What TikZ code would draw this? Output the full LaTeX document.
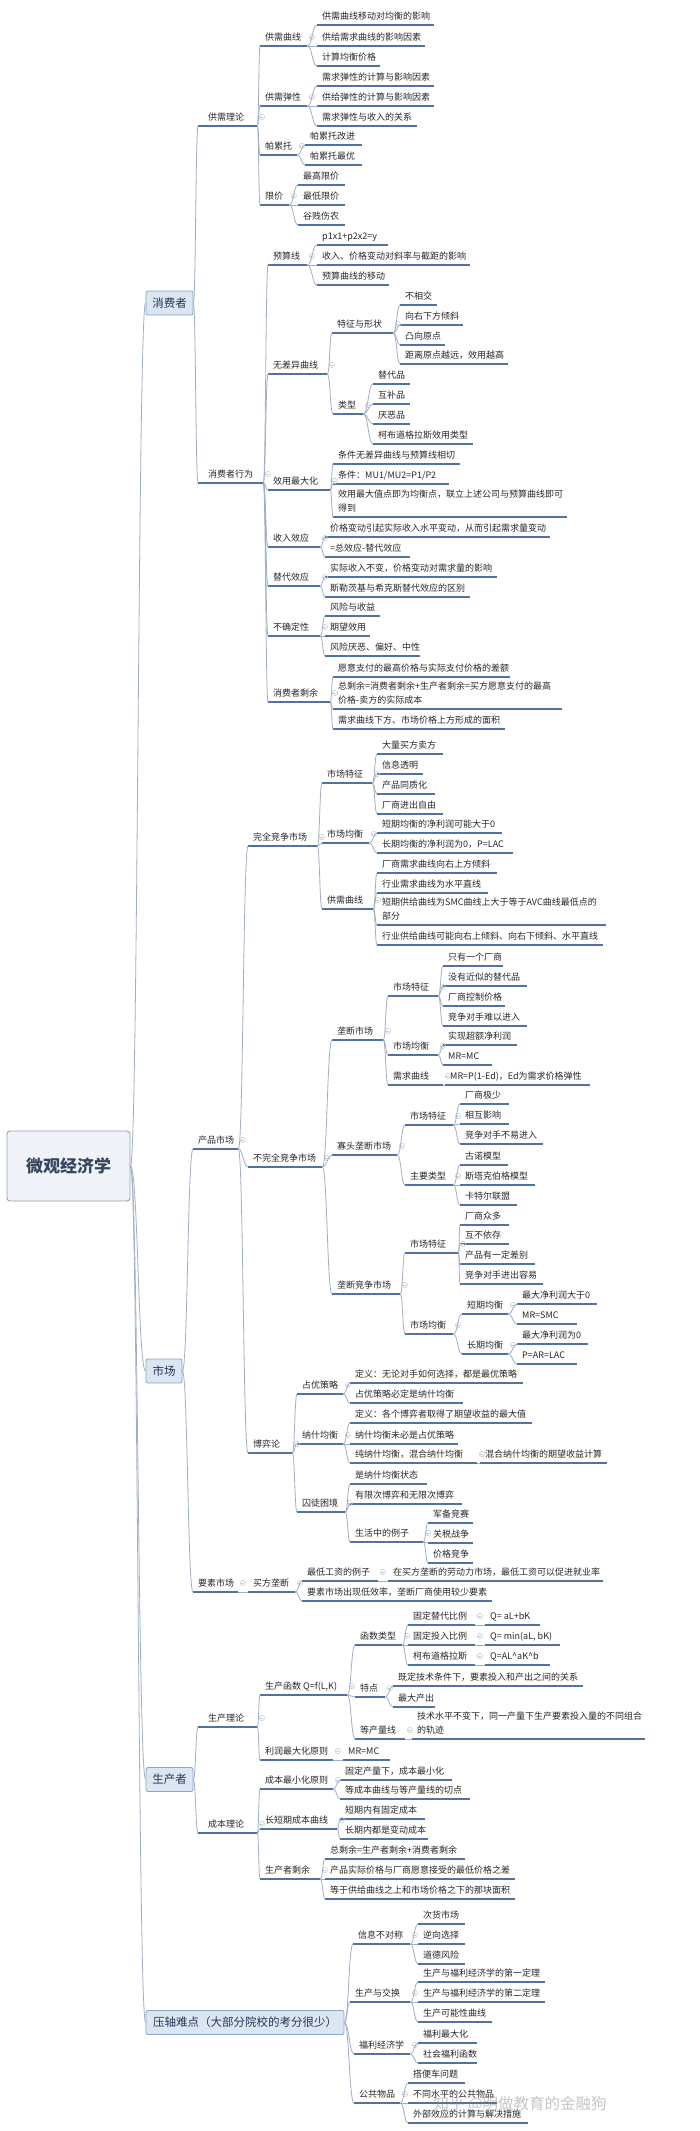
\documentclass[tikz,border=0pt]{standalone}
\usepackage{fontspec}
\setmainfont{Noto Sans CJK SC}
\usetikzlibrary{calc}
\definecolor{ulc}{RGB}{80,115,160}
\definecolor{cnc}{RGB}{160,175,195}
\definecolor{txt}{RGB}{40,40,40}
\definecolor{boxf}{RGB}{220,230,242}
\definecolor{boxb}{RGB}{140,165,195}
\definecolor{boxt}{RGB}{35,55,85}
\definecolor{rootf}{RGB}{240,243,247}
\definecolor{rootb}{RGB}{150,160,175}
\definecolor{roott}{RGB}{55,70,95}
\definecolor{mkc}{RGB}{200,205,212}
\tikzset{
  ulin/.style={draw=ulc, line width=1.2pt},
  lab/.style={anchor=south west, inner xsep=0pt, inner ysep=3.5pt, text depth=2pt,
    font=\fontsize{9}{14}\selectfont, text=txt,
    append after command={(\tikzlastnode.south west) edge[ulin] (\tikzlastnode.south east)}},
  conn/.style={draw=cnc, line width=0.8pt},
  mkline/.style={draw=mkc, line width=0.6pt},
  l1box/.style={draw=boxb, fill=boxf, rounded corners=2pt, line width=0.8pt,
    font=\fontsize{11.5}{14}\selectfont, text=boxt, inner sep=0pt, minimum height=24pt},
  rootbox/.style={draw=rootb, fill=rootf, rounded corners=3pt, line width=0.9pt,
    font=\fontsize{17}{20}\selectfont\bfseries, text=roott, inner sep=0pt,
    minimum width=123pt, minimum height=70pt},
  wmark/.style={font=\fontsize{15.5}{18}\selectfont, text=gray, opacity=0.45, anchor=west}
}
\newcommand\nd[6][5]{\node[lab] (#2) at (#3,#5) {\makebox[\dimexpr#4pt-#3pt\relax][l]{\hspace{#1pt}#6}};}
\newcommand\ml[1]{\begin{tabular}[b]{@{}l@{}}#1\end{tabular}}
\newcommand\lk[2]{\draw[conn] let \p1=(#1), \p2=(#2) in (\p1) .. controls ({(\x1+\x2)/2},\y1) and ({(\x1+\x2)/2},\y2) .. (\p2);}
\newcommand\mk[1]{\draw[mkline] ($(#1)+(4.5,-9)$) circle (2.6pt);
  \draw[mkline] ($(#1)+(3,-9)$) -- ($(#1)+(6,-9)$);}
\newcommand\kids[2]{\mk{#1.south east}\foreach \kid in {#2}{\lk{#1.south east}{\kid.south west}}}
\begin{document}
\begin{tikzpicture}[x=1pt,y=-1pt]
\fill[white] (0,0) rectangle (700,2131);
\useasboundingbox (0,0) rectangle (700,2131);

% root and level 1
\node[rootbox] (root) at (68.5,1166) {微观经济学};
\node[l1box, minimum width=47pt] (xfz) at (169.5,303) {消费者};
\node[l1box, minimum width=36pt] (sc) at (164,1371) {市场};
\node[l1box, minimum width=47pt] (scz) at (169.5,1779.5) {生产者};
\node[l1box, minimum width=198pt] (yz) at (245,2022.5) {压轴难点（大部分院校的考分很少）};

% ---------------- 消费者
\nd[10]{gxll}{198}{257}{126}{供需理论}
\nd{gxqx}{260}{307}{46}{供需曲线}
\nd{a1}{317}{434}{25}{供需曲线移动对均衡的影响}
\nd{a2}{317}{425}{46}{供给需求曲线的影响因素}
\nd{a3}{317}{380}{66}{计算均衡价格}
\nd{gxtx}{260}{307}{106}{供需弹性}
\nd{b1}{317}{434}{86}{需求弹性的计算与影响因素}
\nd{b2}{317}{434}{106}{供给弹性的计算与影响因素}
\nd{b3}{317}{417}{126}{需求弹性与收入的关系}
\nd{plt}{260}{297}{155}{帕累托}
\nd{c1}{305}{362}{145}{帕累托改进}
\nd{c2}{305}{362}{165}{帕累托最优}
\nd{xj}{260}{289}{205}{限价}
\nd{d1}{298}{345}{185}{最高限价}
\nd{d2}{298}{345}{205}{最低限价}
\nd{d3}{298}{345}{225}{谷贱伤农}

\nd[10]{xfzxw}{198}{263}{483}{消费者行为}
\nd{ysx}{268}{307}{265}{预算线}
\nd{e1}{317}{388}{245}{p1x1+p2x2=y}
\nd{e2}{317}{470}{265}{收入、价格变动对斜率与截距的影响}
\nd{e3}{317}{389}{285}{预算曲线的移动}
\nd{wcy}{268}{327}{374}{无差异曲线}
\nd{tzxz}{332}{393}{333}{特征与形状}
\nd{f1}{400}{437}{305}{不相交}
\nd{f2}{400}{463}{325}{向右下方倾斜}
\nd{f3}{400}{445}{345}{凸向原点}
\nd{f4}{400}{508}{364}{距离原点越远，效用越高}
\nd{lx}{333}{363}{414}{类型}
\nd{g1}{373}{410}{384}{替代品}
\nd{g2}{373}{410}{404}{互补品}
\nd{g3}{373}{410}{424}{厌恶品}
\nd{g4}{373}{473}{444}{柯布道格拉斯效用类型}
\nd{xyzdh}{268}{330}{490}{效用最大化}
\nd{h1}{333}{460}{464}{条件无差异曲线与预算线相切}
\nd{h2}{333}{449}{484}{条件：MU1/MU2=P1/P2}
\nd{h3}{333}{567}{517}{\ml{效用最大值点即为均衡点，联立上述公司与预算曲线即可\\得到}}
\nd{srxy}{268}{320}{547}{收入效应}
\nd{i1}{325}{550}{537}{价格变动引起实际收入水平变动，从而引起需求量变动}
\nd{i2}{325}{410}{557}{=总效应-替代效应}
\nd{tdxy}{268}{320}{586}{替代效应}
\nd{j1}{325}{497}{577}{实际收入不变，价格变动对需求量的影响}
\nd{j2}{325}{470}{597}{斯勒茨基与希克斯替代效应的区别}
\nd{bqdx}{268}{320}{636}{不确定性}
\nd{k1}{325}{380}{616}{风险与收益}
\nd{k2}{325}{370}{636}{期望效用}
\nd{k3}{325}{420}{656}{风险厌恶、偏好、中性}
\nd{xfzsy}{268}{330}{702}{消费者剩余}
\nd{l1}{333}{510}{677}{愿意支付的最高价格与实际支付价格的差额}
\nd{l2}{333}{562}{709}{\ml{总剩余=消费者剩余+生产者剩余=买方愿意支付的最高\\价格-卖方的实际成本}}
\nd{l3}{333}{505}{729}{需求曲线下方、市场价格上方形成的面积}

% ---------------- 市场
\nd{cpsc}{193}{238}{1149}{产品市场}
\nd{wqjz}{248}{317}{846}{完全竞争市场}
\nd{sctz1}{322}{372}{783}{市场特征}
\nd{m1}{377}{443}{754}{大量买方卖方}
\nd{m2}{377}{423}{774}{信息透明}
\nd{m3}{377}{435}{794}{产品同质化}
\nd{m4}{377}{443}{814}{厂商进出自由}
\nd{scjh1}{322}{369}{843}{市场均衡}
\nd{n1}{377}{502}{833}{短期均衡的净利润可能大于0}
\nd{n2}{377}{513}{853}{长期均衡的净利润为0，P=LAC}
\nd{gxqx2}{322}{373}{909}{供需曲线}
\nd{o1}{377}{497}{873}{厂商需求曲线向右上方倾斜}
\nd{o2}{377}{488}{893}{行业需求曲线为水平直线}
\nd{o3}{377}{606}{925}{\ml{短期供给曲线为SMC曲线上大于等于AVC曲线最低点的\\部分}}
\nd{o4}{377}{603}{945}{行业供给曲线可能向右上倾斜、向右下倾斜、水平直线}

\nd{bwqjz}{248}{322}{1167}{不完全竞争市场}
\nd{ldsc}{332}{383}{1040}{垄断市场}
\nd{sctz2}{388}{438}{996}{市场特征}
\nd{p1}{443}{503}{966}{只有一个厂商}
\nd{p2}{443}{527}{986}{没有近似的替代品}
\nd{p3}{443}{505}{1006}{厂商控制价格}
\nd{p4}{443}{527}{1026}{竞争对手难以进入}
\nd{scjh2}{388}{438}{1055}{市场均衡}
\nd{q1}{443}{517}{1045}{实现超额净利润}
\nd{q2}{443}{492}{1065}{MR=MC}
\nd{xqqx}{388}{443}{1085}{需求曲线}
\nd{r1}{445}{590}{1085}{MR=P(1-Ed)，Ed为需求价格弹性}
\nd{gtld}{332}{397}{1155}{寡头垄断市场}
\nd{sctz3}{405}{453}{1125}{市场特征}
\nd{s1}{460}{509}{1104}{厂商极少}
\nd{s2}{460}{509}{1124}{相互影响}
\nd{s3}{460}{543}{1144}{竞争对手不易进入}
\nd{zylx}{405}{453}{1185}{主要类型}
\nd{t1}{460}{508}{1165}{古诺模型}
\nd{t2}{460}{535}{1185}{斯塔克伯格模型}
\nd{t3}{460}{517}{1205}{卡特尔联盟}
\nd{ldjz}{332}{400}{1294}{垄断竞争市场}
\nd{sctz4}{405}{458}{1253}{市场特征}
\nd{u1}{460}{509}{1225}{厂商众多}
\nd{u2}{460}{509}{1244}{互不依存}
\nd{u3}{460}{535}{1264}{产品有一定差别}
\nd{u4}{460}{543}{1284}{竞争对手进出容易}
\nd{scjh3}{405}{453}{1334}{市场均衡}
\nd{dqjh}{462}{508}{1314}{短期均衡}
\nd{v1}{517}{597}{1304}{最大净利润大于0}
\nd{v2}{517}{577}{1324}{MR=SMC}
\nd{cqjh}{462}{508}{1354}{长期均衡}
\nd{w1}{517}{588}{1344}{最大净利润为0}
\nd{w2}{517}{577}{1364}{P=AR=LAC}

\nd{byl}{248}{292}{1453}{博弈论}
\nd{zycl}{297}{343}{1394}{占优策略}
\nd{x1}{350}{523}{1383}{定义：无论对手如何选择，都是最优策略}
\nd{x2}{350}{463}{1403}{占优策略必定是纳什均衡}
\nd{nsjh}{297}{343}{1444}{纳什均衡}
\nd{y1}{350}{532}{1423}{定义：各个博弈者取得了期望收益的最大值}
\nd{y2}{350}{458}{1444}{纳什均衡未必是占优策略}
\nd{y3}{350}{477}{1463}{纯纳什均衡，混合纳什均衡}
\nd{y31}{480}{607}{1463}{混合纳什均衡的期望收益计算}
\nd{qtkj}{297}{345}{1512}{囚徒困境}
\nd{z1}{350}{427}{1484}{是纳什均衡状态}
\nd{z2}{350}{462}{1504}{有限次博弈和无限次博弈}
\nd{z3}{350}{423}{1542}{生活中的例子}
\nd{z31}{428}{473}{1523}{军备竞赛}
\nd{z32}{428}{473}{1543}{关税战争}
\nd{z33}{428}{473}{1563}{价格竞争}

\nd{yssc}{193}{238}{1592}{要素市场}
\nd{mfld}{248}{295}{1592}{买方垄断}
\nd{aa1}{302}{378}{1581}{最低工资的例子}
\nd{aa11}{388}{603}{1581}{在买方垄断的劳动力市场，最低工资可以促进就业率}
\nd{aa2}{302}{492}{1601}{要素市场出现低效率，垄断厂商使用较少要素}

% ---------------- 生产者
\nd[10]{scll}{198}{257}{1727}{生产理论}
\nd{schs}{260}{347}{1695}{生产函数 Q=f(L,K)}
\nd{hslx}{355}{402}{1645}{函数类型}
\nd{bb1}{408}{475}{1625}{固定替代比例}
\nd{bb11}{485}{540}{1625}{Q= aL+bK}
\nd{bb2}{408}{475}{1645}{固定投入比例}
\nd{bb21}{485}{560}{1645}{Q= min(aL, bK)}
\nd{bb3}{408}{475}{1665}{柯布道格拉斯}
\nd{bb31}{485}{550}{1665}{Q=AL\textasciicircum aK\textasciicircum b}
\nd{td}{355}{385}{1697}{特点}
\nd{cc1}{393}{583}{1686}{既定技术条件下，要素投入和产出之间的关系}
\nd{cc2}{393}{435}{1707}{最大产出}
\nd{dclx}{355}{405}{1739}{等产量线}
\nd{dd1}{412}{645}{1739}{\ml{技术水平不变下，同一产量下生产要素投入量的不同组合\\的轨迹}}
\nd{lrzd}{260}{333}{1760}{利润最大化原则}
\nd{ee1}{343}{390}{1760}{MR=MC}
\nd[10]{cbll}{198}{257}{1833}{成本理论}
\nd{cbzx}{260}{333}{1789}{成本最小化原则}
\nd{ff1}{340}{452}{1780}{固定产量下，成本最小化}
\nd{ff2}{340}{470}{1799}{等成本曲线与等产量线的切点}
\nd{cdq}{260}{337}{1829}{长短期成本曲线}
\nd{gg1}{340}{425}{1819}{短期内有固定成本}
\nd{gg2}{340}{428}{1839}{长期内都是变动成本}
\nd{scsy}{260}{320}{1879}{生产者剩余}
\nd{hh1}{325}{465}{1859}{总剩余=生产者剩余+消费者剩余}
\nd{hh2}{325}{515}{1879}{产品实际价格与厂商愿意接受的最低价格之差}
\nd{hh3}{325}{515}{1899}{等于供给曲线之上和市场价格之下的那块面积}

% ---------------- 压轴难点
\nd{xxbdc}{353}{410}{1944}{信息不对称}
\nd{ii1}{418}{465}{1924}{次货市场}
\nd{ii2}{418}{465}{1944}{逆向选择}
\nd{ii3}{418}{465}{1964}{道德风险}
\nd{scyjh}{350}{410}{2002}{生产与交换}
\nd{jj1}{418}{545}{1982}{生产与福利经济学的第一定理}
\nd{jj2}{418}{545}{2002}{生产与福利经济学的第二定理}
\nd{jj3}{418}{492}{2022}{生产可能性曲线}
\nd{flj}{354}{410}{2054}{福利经济学}
\nd{kk1}{418}{477}{2043}{福利最大化}
\nd{kk2}{418}{477}{2063}{社会福利函数}
\nd{ggwp}{354}{400}{2103}{公共物品}
\nd{ll1}{408}{465}{2083}{搭便车问题}
\nd{ll2}{408}{497}{2103}{不同水平的公共物品}
\nd{ll3}{408}{528}{2123}{外部效应的计算与解决措施}

% ---------------- connectors
\foreach \b in {xfz,sc,scz,yz}{\lk{root.east}{\b.west}}
\foreach \kid in {gxll,xfzxw}{\lk{xfz.east}{\kid.south west}}
\foreach \kid in {cpsc,yssc}{\lk{sc.east}{\kid.south west}}
\foreach \kid in {scll,cbll}{\lk{scz.east}{\kid.south west}}
\foreach \kid in {xxbdc,scyjh,flj,ggwp}{\lk{yz.east}{\kid.south west}}

\kids{gxll}{gxqx,gxtx,plt,xj}
\kids{gxqx}{a1,a2,a3}
\kids{gxtx}{b1,b2,b3}
\kids{plt}{c1,c2}
\kids{xj}{d1,d2,d3}
\kids{xfzxw}{ysx,wcy,xyzdh,srxy,tdxy,bqdx,xfzsy}
\kids{ysx}{e1,e2,e3}
\kids{wcy}{tzxz,lx}
\kids{tzxz}{f1,f2,f3,f4}
\kids{lx}{g1,g2,g3,g4}
\kids{xyzdh}{h1,h2,h3}
\kids{srxy}{i1,i2}
\kids{tdxy}{j1,j2}
\kids{bqdx}{k1,k2,k3}
\kids{xfzsy}{l1,l2,l3}

\kids{cpsc}{wqjz,bwqjz,byl}
\kids{wqjz}{sctz1,scjh1,gxqx2}
\kids{sctz1}{m1,m2,m3,m4}
\kids{scjh1}{n1,n2}
\kids{gxqx2}{o1,o2,o3,o4}
\kids{bwqjz}{ldsc,gtld,ldjz}
\kids{ldsc}{sctz2,scjh2,xqqx}
\kids{sctz2}{p1,p2,p3,p4}
\kids{scjh2}{q1,q2}
\kids{xqqx}{r1}
\kids{gtld}{sctz3,zylx}
\kids{sctz3}{s1,s2,s3}
\kids{zylx}{t1,t2,t3}
\kids{ldjz}{sctz4,scjh3}
\kids{sctz4}{u1,u2,u3,u4}
\kids{scjh3}{dqjh,cqjh}
\kids{dqjh}{v1,v2}
\kids{cqjh}{w1,w2}
\kids{byl}{zycl,nsjh,qtkj}
\kids{zycl}{x1,x2}
\kids{nsjh}{y1,y2,y3}
\kids{y3}{y31}
\kids{qtkj}{z1,z2,z3}
\kids{z3}{z31,z32,z33}
\kids{yssc}{mfld}
\kids{mfld}{aa1,aa2}
\kids{aa1}{aa11}

\kids{scll}{schs,lrzd}
\kids{schs}{hslx,td,dclx}
\kids{hslx}{bb1,bb2,bb3}
\kids{bb1}{bb11}
\kids{bb2}{bb21}
\kids{bb3}{bb31}
\kids{td}{cc1,cc2}
\kids{dclx}{dd1}
\kids{lrzd}{ee1}
\kids{cbll}{cbzx,cdq,scsy}
\kids{cbzx}{ff1,ff2}
\kids{cdq}{gg1,gg2}
\kids{scsy}{hh1,hh2,hh3}

\kids{xxbdc}{ii1,ii2,ii3}
\kids{scyjh}{jj1,jj2,jj3}
\kids{flj}{kk1,kk2}
\kids{ggwp}{ll1,ll2,ll3}

\node[wmark] (wm) at (430,2104) {知乎 @明做教育的金融狗};
\end{tikzpicture}
\end{document}
